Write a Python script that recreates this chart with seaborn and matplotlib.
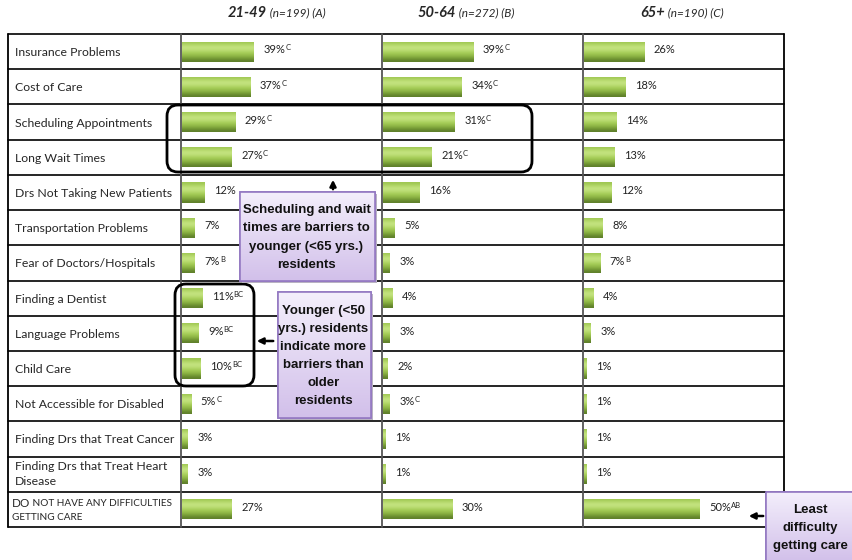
import numpy as np
import pandas as pd
import seaborn as sns
import matplotlib.pyplot as plt
from matplotlib.patches import FancyBboxPatch

barriers = ['Insurance Problems', 'Cost of Care', 'Scheduling Appointments', 'Long Wait Times',
            'Drs Not Taking New Patients', 'Transportation Problems', 'Fear of Doctors/Hospitals',
            'Finding a Dentist', 'Language Problems', 'Child Care', 'Not Accessible for Disabled',
            'Finding Drs that Treat Cancer', 'Finding Drs that Treat Heart\nDisease',
            'DO NOT HAVE ANY DIFFICULTIES GETTING CARE']
age_21_49 = [39, 37, 29, 27, 12, 7, 7, 11, 9, 10, 5, 3, 3, 27]
age_50_64 = [39, 34, 31, 21, 16, 5, 3, 4, 3, 2, 3, 1, 1, 30]
age_65_up = [26, 18, 14, 13, 12, 8, 7, 4, 3, 1, 1, 1, 1, 50]
sig_21_49 = ['C', 'C', 'C', 'C', '', '', 'B', 'BC', 'BC', 'BC', 'C', '', '', '']
sig_50_64 = ['C', 'C', 'C', 'C', '', '', '', '', '', '', 'C', '', '', '']
sig_65_up = ['', '', '', '', '', '', 'B', '', '', '', '', '', '', 'AB']
groups = [('21-49', '(n=199) (A)'), ('50-64', '(n=272) (B)'), ('65+', '(n=190) (C)')]

W, H = 853, 560
TOP, BOT = 34, 527
cols = [8, 181, 382, 583, 784]
xmax = [108.6, 86.6, 86.6]
FONT = ['Lato', 'DejaVu Sans']

sns.set_style('white')
plt.rcParams['font.family'] = FONT
fig = plt.figure(figsize=(W / 100, H / 100), dpi=100)

grad = np.array([0.6, 0.8, 0.95, 0.85, 0.65, 0.5, 0.3, 0.12])[:, None]
green = plt.matplotlib.colors.LinearSegmentedColormap.from_list(
    'g', ['#4d6a22', '#7fa63a', '#a7cf58', '#cbe88a'])

for i, (vals, sigs) in enumerate([(age_21_49, sig_21_49), (age_50_64, sig_50_64), (age_65_up, sig_65_up)]):
    x0, x1 = cols[i + 1], cols[i + 2]
    ax = fig.add_axes([(x0 + 1) / W, 1 - BOT / H, (x1 - x0 - 1) / W, (BOT - TOP) / H])
    df = pd.DataFrame({'barrier': barriers, 'pct': vals})
    sns.barplot(data=df, x='pct', y='barrier', orient='h', width=0.57, color='#8fb440',
                ax=ax, linewidth=0)
    ax.set_xlim(0, xmax[i])
    ax.axis('off')
    for p, v, s in zip(ax.patches, vals, sigs):
        bx, by, bw, bh = p.get_x(), p.get_y(), p.get_width(), p.get_height()
        im = ax.imshow(grad, cmap=green, vmin=0, vmax=1, aspect='auto',
                       extent=(bx, bx + bw, by + bh, by), interpolation='bicubic', zorder=2)
        im.set_clip_path(p)
        p.set_facecolor('none')
        t = ax.text(bx + bw + xmax[i] * 0.048, by + bh / 2 - 0.05, f'{v}%', fontsize=8,
                    va='center', ha='left', color='#222222')
        if s:
            ax.annotate(s, xy=(1.0, 1.0), xycoords=t, fontsize=5.5, va='top', ha='left',
                        color='#222222')
    ax.set_ylim(len(barriers) - 0.5, -0.5)

ov = fig.add_axes([0, 0, 1, 1], facecolor='none')
ov.set_xlim(0, W)
ov.set_ylim(H, 0)
ov.axis('off')

rh = (BOT - TOP) / len(barriers)
for k in range(len(barriers) + 1):
    ov.plot([cols[0], cols[-1]], [TOP + k * rh] * 2, color='black', lw=1.2, zorder=3)
for k, x in enumerate(cols):
    ov.plot([x, x], [TOP, BOT], color='black' if k in (0, 4) else '#555555', lw=1.3, zorder=3)

for k, lab in enumerate(barriers[:-1]):
    yc = TOP + (k + 0.5) * rh
    if '\n' in lab:
        ov.text(15, yc, lab, fontsize=8.8, va='center', ha='left', linespacing=1.45)
    else:
        ov.text(15, yc + 1, lab, fontsize=8.8, va='center', ha='left')
yc = TOP + (len(barriers) - 0.5) * rh
t = ov.text(12, yc - 6, 'DO', fontsize=8.5, va='center', ha='left')
ov.annotate(' NOT HAVE ANY DIFFICULTIES', xy=(1, 0.12), xycoords=t, fontsize=7.2, va='bottom', ha='left')
ov.text(12, yc + 8, 'GETTING CARE', fontsize=7.2, va='center', ha='left')

for (bold, rest), x in zip(groups, [228, 418, 640]):
    t = ov.text(x, 13, bold, fontsize=10.5, fontweight='bold', fontstyle='italic', va='center', ha='left')
    ov.annotate(' ' + rest, xy=(1, 0.12), xycoords=t, fontsize=8.5, fontstyle='italic', va='bottom', ha='left')

for (x, y, w, h) in [(167, 105, 365, 67), (175, 284, 79, 102)]:
    ov.add_patch(FancyBboxPatch((x, y), w, h, boxstyle='round,pad=0,rounding_size=11',
                                fc='none', ec='black', lw=2, zorder=4))

lav = plt.matplotlib.colors.LinearSegmentedColormap.from_list('l', ['#f3eefb', '#d2c0ea'])
callouts = [((240, 192, 135, 89), 'Scheduling and wait\ntimes are barriers to\nyounger (<65 yrs.)\nresidents'),
            ((278, 292, 93, 126), 'Younger (<50\nyrs.) residents\nindicate more\nbarriers than\nolder\nresidents'),
            ((766, 492, 90, 70), 'Least\ndifficulty\ngetting care')]
for (x, y, w, h), txt in callouts:
    ov.add_patch(FancyBboxPatch((x + 2, y + 2), w, h, boxstyle='square,pad=0',
                                fc='#b9b3c2', ec='none', zorder=5))
    box = FancyBboxPatch((x, y), w, h, boxstyle='square,pad=0', fc='#e6dcf4', ec='#9479c2',
                         lw=1.2, zorder=6)
    ov.add_patch(box)
    im = ov.imshow(np.linspace(0, 1, 50)[:, None], cmap=lav, aspect='auto',
                   extent=(x, x + w, y + h, y), zorder=6.5)
    im.set_clip_path(box)
    ov.add_patch(FancyBboxPatch((x, y), w, h, boxstyle='square,pad=0', fc='none', ec='#9479c2',
                                lw=1.2, zorder=7))
    ov.text(x + w / 2 - 1, y + h / 2 + 1, txt, fontsize=9.5, fontweight='bold', ha='center', va='center',
            family=['Liberation Sans', 'DejaVu Sans'], linespacing=1.68, color='#111111', zorder=8)

for (x0, y0, x1, y1) in [(333, 192, 333, 177), (276, 341, 254, 341), (766, 516, 746, 516)]:
    ov.annotate('', xy=(x1, y1), xytext=(x0, y0),
                arrowprops=dict(arrowstyle='-|>', color='black', lw=1.8, mutation_scale=9), zorder=9)

fig.savefig('out.png', dpi=100)
